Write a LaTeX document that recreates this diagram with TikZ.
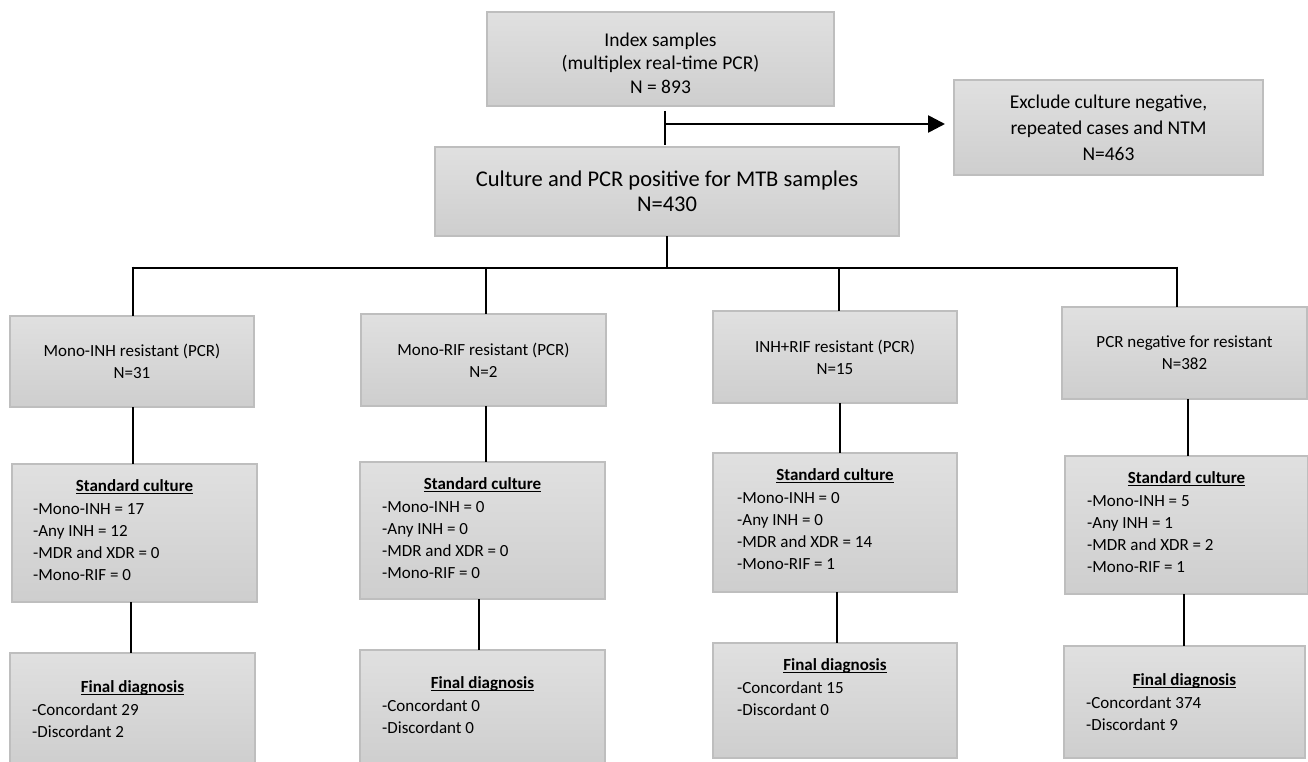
\documentclass[tikz,border=0pt]{standalone}
\usepackage{fontspec}
\setmainfont{Carlito}
\usetikzlibrary{arrows.meta}
\definecolor{boxtop}{RGB}{224,224,224}
\definecolor{boxbot}{RGB}{206,206,206}
\definecolor{boxline}{RGB}{190,190,190}
\newcommand\myuline[1]{\leavevmode\setbox0\hbox{#1}\rlap{\rule[-2.6pt]{\wd0}{1.1pt}}\box0}
\tikzset{
  box/.style={draw=boxline, line width=1.3pt, top color=boxtop, bottom color=boxbot, inner sep=0pt, outer sep=0pt, align=center},
  conn/.style={line width=2.6pt, black},
  arr/.style={conn, -{Triangle[length=17pt,width=17pt]}},
  small/.style={font=\fontsize{17}{22}\selectfont},
  big/.style={font=\fontsize{19.5}{23.5}\selectfont},
  txt/.style={inner sep=0pt, align=center},
  hdr/.style={font=\fontsize{17}{22}\selectfont\bfseries, inner sep=0pt, anchor=base},
  list/.style={font=\fontsize{17}{22}\selectfont, align=left, inner sep=0pt, anchor=north west},
}
\begin{document}
\begin{tikzpicture}[x=1pt,y=-1pt]
\useasboundingbox (0,0) rectangle (1308,762);

% top part
\node[box,minimum width=347,minimum height=94] (idx) at (660.5,59) {};
\node[txt,big] (idxt) at ([yshift=-4]idx.center) {Index samples\\(multiplex real-time PCR)\\N = 893};
\node[box,font=\fontsize{19.5}{26}\selectfont,minimum width=309,minimum height=95] (exc) at (1108.5,127.5) {Exclude culture negative,\\repeated cases and NTM\\N=463};
\node[box,font=\fontsize{22.5}{25}\selectfont,minimum width=464,minimum height=89] (cul) at (667,191.5) {Culture and PCR positive for MTB samples\\N=430};

% resistance boxes
\node[box,small,minimum width=244,minimum height=91] (r1) at (132,361.5) {Mono-INH resistant (PCR)\\N=31};
\node[box,small,minimum width=245,minimum height=92] (r2) at (483.5,360) {Mono-RIF resistant (PCR)\\N=2};
\node[box,small,minimum width=244,minimum height=92] (r3) at (835,357) {INH+RIF resistant (PCR)\\N=15};
\node[box,small,minimum width=245,minimum height=92] (r4) at (1184.5,353) {PCR negative for resistant\\N=382};

% standard culture boxes
\node[box,minimum width=245,minimum height=138] (s1) at (134.5,533) {};
\node[box,minimum width=245,minimum height=137] (s2) at (482.5,530.5) {};
\node[box,minimum width=244,minimum height=139] (s3) at (835,522.5) {};
\node[box,minimum width=243,minimum height=138] (s4) at (1186.5,525) {};
\foreach \s in {s1,s2,s3,s4}{
  \node[hdr] (\s h) at ([yshift=-27]\s.north) {\myuline{Standard culture}};
}
\node[list] (s1l) at ([xshift=21,yshift=-39]s1.north west) {-Mono-INH = 17\\-Any INH = 12\\-MDR and XDR = 0\\-Mono-RIF = 0};
\node[list] (s2l) at ([xshift=22,yshift=-39]s2.north west) {-Mono-INH = 0\\-Any INH = 0\\-MDR and XDR = 0\\-Mono-RIF = 0};
\node[list] (s3l) at ([xshift=24,yshift=-39]s3.north west) {-Mono-INH = 0\\-Any INH = 0\\-MDR and XDR = 14\\-Mono-RIF = 1};
\node[list] (s4l) at ([xshift=22,yshift=-39]s4.north west) {-Mono-INH = 5\\-Any INH = 1\\-MDR and XDR = 2\\-Mono-RIF = 1};

% final diagnosis boxes
\node[box,minimum width=245,minimum height=112] (f1) at (132.5,709) {};
\node[box,minimum width=245,minimum height=115] (f2) at (482.5,707.5) {};
\node[box,minimum width=244,minimum height=115] (f3) at (835,700.5) {};
\node[box,minimum width=241,minimum height=112] (f4) at (1184.5,702) {};
\node[hdr] (f1h) at ([yshift=-39]f1.north) {\myuline{Final diagnosis}};
\node[hdr] (f2h) at ([yshift=-38]f2.north) {\myuline{Final diagnosis}};
\node[hdr] (f3h) at ([yshift=-27]f3.north) {\myuline{Final diagnosis}};
\node[hdr] (f4h) at ([yshift=-39]f4.north) {\myuline{Final diagnosis}};
\node[list] (f1l) at ([xshift=22,yshift=-50]f1.north west) {-Concordant 29\\-Discordant 2};
\node[list] (f2l) at ([xshift=22,yshift=-49]f2.north west) {-Concordant 0\\-Discordant 0};
\node[list] (f3l) at ([xshift=24,yshift=-38]f3.north west) {-Concordant 15\\-Discordant 0};
\node[list] (f4l) at ([xshift=22,yshift=-50]f4.north west) {-Concordant 374\\-Discordant 9};

% connectors top
\coordinate (split) at (665,124);
\draw[conn,shorten <=5pt,shorten >=2pt] (idx.south -| split) -- (cul.north -| split);
\draw[arr,shorten >=9pt] (split) -- (exc.west |- split);

% bus
\coordinate (b1) at (133,268);
\coordinate (b2) at (486,268);
\coordinate (b3) at (839,268);
\coordinate (b4) at (1177,268);
\draw[conn] (cul.south) -- (cul.south |- b1);
\draw[conn] ([xshift=-1.3]b1) -- ([xshift=1.3]b4);
\draw[conn] ([yshift=1.3]b1) -- (b1 |- r1.north);
\draw[conn] (b2) -- (b2 |- r2.north);
\draw[conn] (b3) -- (b3 |- r3.north);
\draw[conn] ([yshift=1.3]b4) -- (b4 |- r4.north);

% column connectors
\draw[conn] ([xshift=1]r1.south) -- ([xshift=-1.5]s1.north);
\draw[conn] ([xshift=-3.5]s1.south) -- ([xshift=-1.5]f1.north);
\draw[conn] ([xshift=2.5]r2.south) -- ([xshift=3.5]s2.north);
\draw[conn] ([xshift=-3.5]s2.south) -- ([xshift=-3.5]f2.north);
\draw[conn] ([xshift=5]r3.south) -- ([xshift=5]s3.north);
\draw[conn] ([xshift=2]s3.south) -- ([xshift=2]f3.north);
\draw[conn] ([xshift=3.5]r4.south) -- ([xshift=1.5]s4.north);
\draw[conn] ([xshift=-2.5]s4.south) -- ([xshift=-0.5]f4.north);
\end{tikzpicture}
\end{document}
